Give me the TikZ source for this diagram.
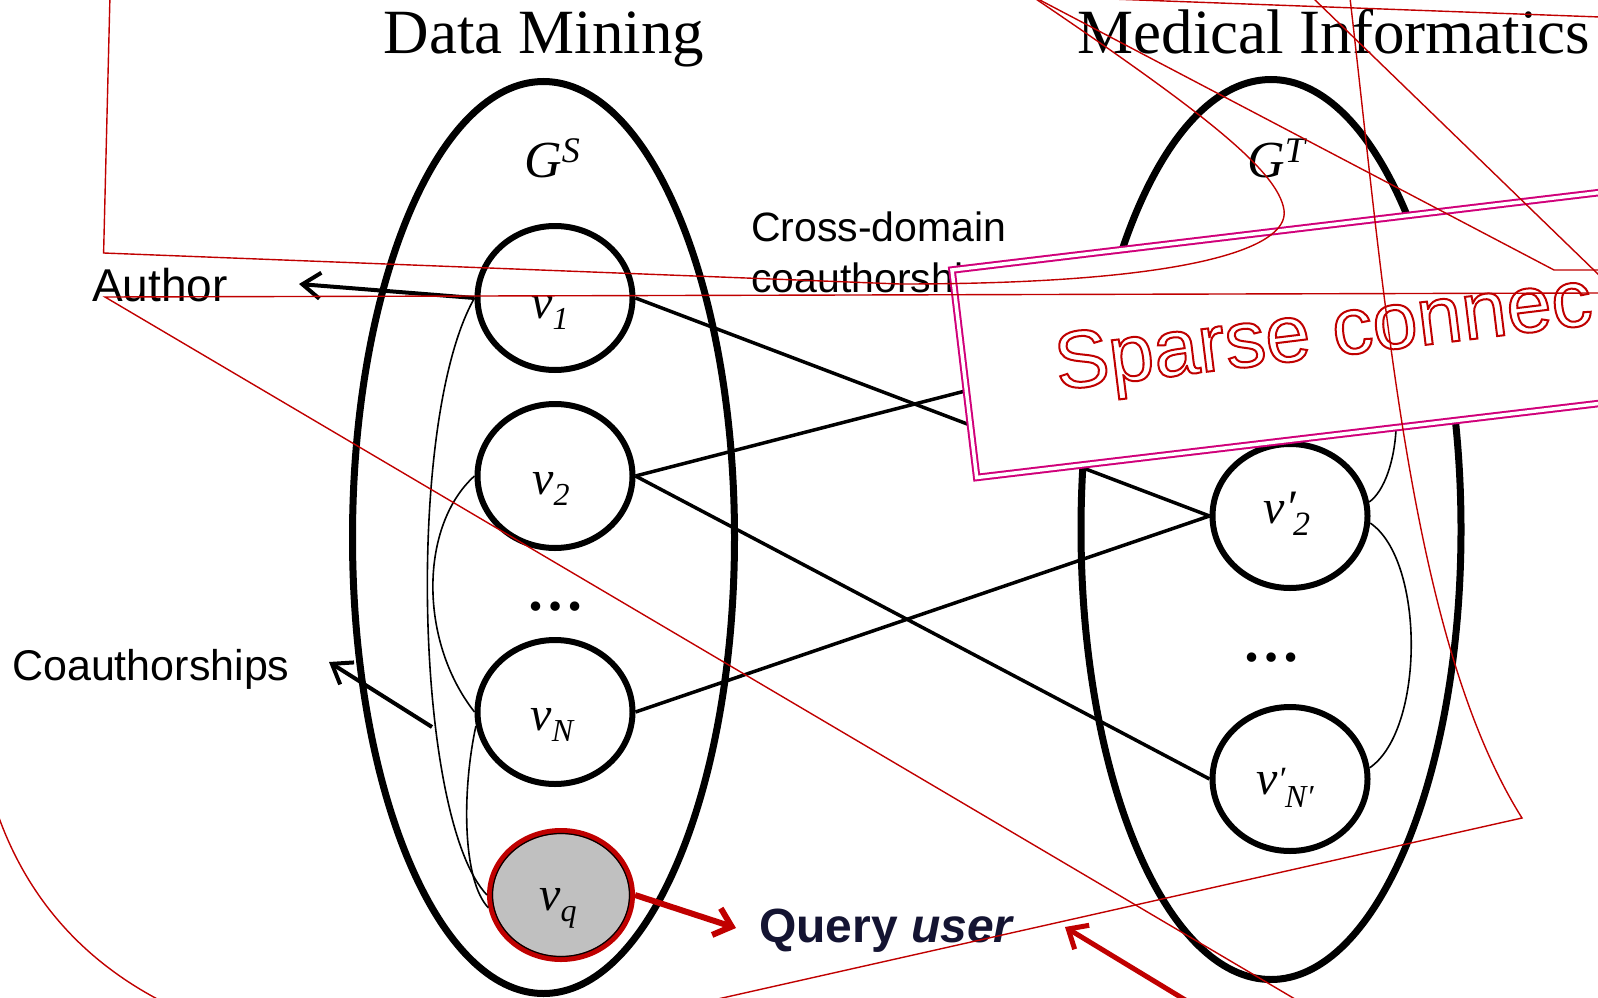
\documentclass[tikz,border=0pt]{standalone}
\usepackage{fontspec}
\setmainfont{Liberation Serif}
\setsansfont{Liberation Sans}
\usetikzlibrary{shapes.geometric,arrows.meta}

\definecolor{dred}{RGB}{192,0,0}
\definecolor{boxmag}{RGB}{208,0,122}
\definecolor{qgray}{RGB}{192,192,192}
\definecolor{navy}{RGB}{20,20,50}

\tikzset{
  grp/.style={ellipse, draw, line width=7pt, inner sep=0pt},
  vtx/.style={ellipse, draw, line width=6pt, minimum width=155pt, minimum height=144pt, inner sep=0pt},
  qvtx/.style={ellipse, draw=dred, fill=qgray, line width=6pt, minimum width=142pt, minimum height=128pt, inner sep=0pt},
  vlab/.style={font=\fontsize{48}{48}\selectfont\itshape, inner sep=0pt},
  ttl/.style={font=\fontsize{63}{63}\selectfont, anchor=base, inner sep=0pt},
  stxt/.style={font=\sffamily\fontsize{#1}{#1}\selectfont, anchor=base west, inner sep=0pt},
  dotrow/.style={font=\fontsize{58}{58}\selectfont\bfseries, anchor=base, inner sep=0pt},
  link/.style={line width=3.5pt},
  coau/.style={line width=1.6pt},
  pointer/.style={line width=4pt, -{Straight Barb[length=18pt,width=26pt]}},
  qpointer/.style={dred, line width=6pt, -{Straight Barb[length=16pt,width=28pt]}},
  sbox/.style={draw=boxmag, line width=2pt, double=white, double distance=3.5pt, fill=white},
  stray/.style={dred, line width=1.4pt}
}

\newcommand{\vsb}[1]{v\raisebox{-11pt}{\fontsize{32}{32}\selectfont #1}}
\newcommand{\vpsb}[1]{v\rlap{′}\hspace{8pt}\raisebox{-12pt}{\fontsize{34}{34}\selectfont #1}}
\newcommand{\vpN}{v\raisebox{4pt}{\fontsize{34}{34}\selectfont ′}\raisebox{-13pt}{\fontsize{32}{32}\selectfont N′}}
\newcommand{\grpname}[1]{G\raisebox{15pt}{\fontsize{36}{36}\selectfont #1}}
% hollow letters: stroke only
\newcommand{\hollow}[1]{\special{pdf:literal direct 1 Tr 2 w}#1\special{pdf:literal direct 0 Tr}}

\begin{document}
\begin{tikzpicture}[x=1pt, y=-1pt]
\useasboundingbox (0,0) rectangle (1598,998);
\clip (0,0) rectangle (1598,998);

% titles and the two graphs
\node[ttl] (dm) at (544,54) {Data Mining};
\node[ttl] (mi) at (1334,54) {Medical Informatics};

\node[grp, minimum width=382pt, minimum height=912pt] (gs) at (543.5,537.5) {};
\node[grp, minimum width=380pt, minimum height=900pt] (gt) at (1271,529.5) {};
\node[vlab, font=\fontsize{52}{52}\selectfont\itshape, anchor=base] (gsl) at (552,177) {\grpname{S}};
\node[vlab, font=\fontsize{52}{52}\selectfont\itshape, anchor=base] (gtl) at (1276,177) {\grpname{T}};

\foreach \n/\y in {1/298, 2/476, N/712}
  \node[vtx] (v\n) at (555,\y) {};
\node[qvtx] (vq) at (561,895) {};
\draw[line width=1.2pt] (vq.center) ellipse (68.5 and 61.5);

\foreach \n/\y in {1/328, 2/516, NN/779}
  \node[vtx] (vp\n) at (1290,\y) {};

\node[vlab] (t1) at (550,313) {\vsb{1}};
\node[vlab] (t2) at (551,489) {\vsb{2}};
\node[vlab] (tN) at (552,725) {\vsb{N}};
\node[vlab] (tq) at (558,908) {\vsb{q}};
\node[vlab] (tp2) at (1287,514) {\vpsb{2}};
\node[vlab] (tpN) at (1285,788) {\vpN};

\node[dotrow] (d1) at (555,610) {…};
\node[dotrow] (d2) at (1271,661) {…};

% cross-domain links
\draw[link] (v1.east) -- (vp2.west);
\draw[link] (v2.east) -- (vp1.west);
\draw[link] (v2.east) -- (vpNN.west);
\draw[link] (vN.east) -- (vp2.west);

% coauthorships inside a domain
\draw[coau] (v1.west) .. controls (405,420) and (415,820) .. (vq.west);
\draw[coau] (v2.west) .. controls (420,525) and (418,640) .. (vN.west);
\draw[coau] (vN.190) .. controls (462,790) and (462,880) .. (vq.190);
\draw[coau] (vp2.10) .. controls (1400,480) and (1410,380) .. (vp1.east);
\draw[coau] (vp2.-5) .. controls (1425,560) and (1425,730) .. (vpNN.8);

% labels
\node[stxt=46] (author) at (92,301) {Author};
\node[stxt=43] (coauth) at (12,680) {Coauthorships};
\node[stxt=41] (cross) at (751,241) {Cross-domain};
\node[stxt=41] (cross2) at (751,292) {coauthorships};
\node[stxt=48, font=\sffamily\bfseries\fontsize{48}{48}\selectfont, text=navy] (query) at (759,942) {Query \textit{user}};

\coordinate (authortip) at (299,284);
\coordinate (coamid) at (432,727);
\coordinate (coatip) at (329,662);
\coordinate (qtip) at (736,928);
\coordinate (rtail) at (1215,1018);
\coordinate (rtip) at (1065,927);

\draw[pointer] (v1.west) -- (authortip);
\draw[pointer] (coamid) -- (coatip);
\draw[qpointer] (vq.east) -- (qtip);

% callout box
\draw[sbox] (952,270) -- (976.7,477.5) -- (1771,383) -- (1746,175) -- cycle;
\node[stxt=81, rotate=7, text=dred] (sparse) at (1058,390) {\hollow{Sparse connec}};

% stray strokes
\draw[stray] (110,-5) -- (103.6,253) -- (900,284) .. controls (1180,284) and (1290,250) .. (1284,210) .. controls (1278,170) and (1200,110) .. (1030,-5);
\draw[stray] (1600,293) -- (105,297) -- (1300,1002);
\draw[stray] (1036,-2) -- (1554,270) -- (1600,270);
\draw[stray] (1313,-2) -- (1600,276);
\draw[stray] (1100,-1.4) -- (1600,17);
\draw[stray] (1350,-2) .. controls (1385,300) and (1410,640) .. (1522,818) -- (700,1003);
\draw[stray] (-2,815) .. controls (30,905) and (90,965) .. (165,1003);
\draw[qpointer, line width=5pt] (rtail) -- (rtip);

\end{tikzpicture}
\end{document}
